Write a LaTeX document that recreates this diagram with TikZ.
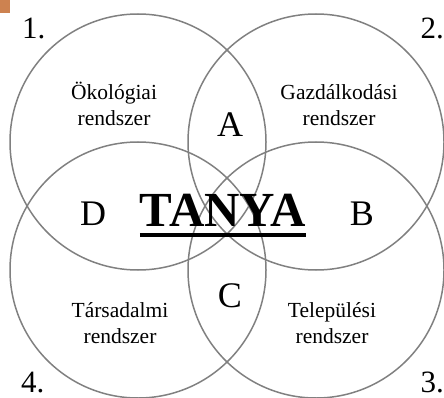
\documentclass[tikz,border=0pt]{standalone}
\usepackage{fontspec}
\setmainfont{Liberation Serif}
\definecolor{ringgray}{RGB}{128,128,128}
\definecolor{cornerorange}{RGB}{205,130,80}

\begin{document}
\begin{tikzpicture}[
    x=1pt, y=-1pt,
    ring/.style={line width=1.5pt, ringgray},
    number/.style={inner sep=0pt, font=\fontsize{31}{31}\selectfont},
    zone/.style={inner sep=0pt, anchor=base, font=\fontsize{36}{36}\selectfont},
    title/.style={inner sep=0pt, anchor=base, font=\fontsize{49}{49}\selectfont\bfseries},
    system/.style={inner sep=0pt, anchor=base, align=center,
        font=\fontsize{21.5}{26}\selectfont}
]

% ---------- Parameters ----------
\def\r{128}
\def\xl{138}
\def\xr{316}
\def\yt{142}
\def\yb{270}

\useasboundingbox (0,0) rectangle (444,398);

% ---------- Corner mark ----------
\fill[cornerorange] (0,0) rectangle (10,13);

% ---------- Circles ----------
\coordinate (c1) at (\xl,\yt);
\coordinate (c2) at (\xr,\yt);
\coordinate (c3) at (\xr,\yb);
\coordinate (c4) at (\xl,\yb);

\foreach \c in {c1,c2,c3,c4}
    \draw[ring] (\c) circle[radius=\r pt];

% ---------- Numbers ----------
\node[number, anchor=base west] (n1) at (22,39) {1.};
\node[number, anchor=base east] (n2) at (444,39) {2.};
\node[number, anchor=base east] (n3) at (444,392) {3.};
\node[number, anchor=base west] (n4) at (21,392) {4.};

% ---------- Systems (base = last line) ----------
\node[system] (eco) at (114,126) {Ökológiai\\rendszer};
\node[system] (gazd) at (339,126) {Gazdálkodási\\rendszer};
\node[system] (tars) at (120,343) {Társadalmi\\rendszer};
\node[system] (telep) at (332,343) {Települési\\rendszer};

% ---------- Overlaps ----------
\node[zone] (A) at (230,137) {A};
\node[zone] (B) at (362,225) {B};
\node[zone] (C) at (230,307) {C};
\node[zone] (D) at (93,225) {D};

% ---------- Centre ----------
\node[title] (tanya) at (223,226) {TANYA};
\draw[line width=4pt]
    ([yshift=-9pt]tanya.base west) -- ([yshift=-9pt]tanya.base east);

\end{tikzpicture}
\end{document}
